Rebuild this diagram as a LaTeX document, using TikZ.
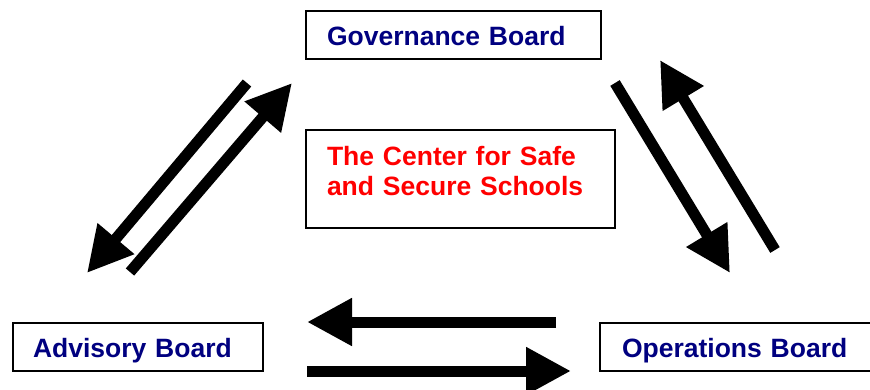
\documentclass[tikz,border=0pt]{standalone}
\usepackage{fontspec}
\setmainfont{Liberation Sans}
\usepackage{xcolor}
\usepackage{tikz}
\usetikzlibrary{arrows.meta}
\definecolor{boardtext}{HTML}{000080}
\definecolor{centertext}{HTML}{FF0000}
\tikzset{
  BoardBox/.style={
    draw=black, line width=1.6pt, fill=white,
    minimum height=48pt,
    text height=23pt, text depth=2pt,
    align=left, text=boardtext,
    font=\fontsize{26.5}{30}\selectfont\bfseries
  },
  CenterBox/.style={
    draw=black, line width=1.6pt, fill=white,
    minimum width=309pt, minimum height=98pt,
    inner xsep=21pt, text width=267pt,
    align=left, text=centertext,
    font=\fontsize{26.5}{30}\selectfont\bfseries
  },
  BigArrow/.style={
    line width=11pt,
    -{Triangle[length=45pt,width=45pt]}
  }
}

\begin{document}
\begin{tikzpicture}[x=1pt, y=-1pt]
  \clip (0,0) rectangle (870,389);

  % boards
  \node[BoardBox, minimum width=295pt, inner xsep=21pt, text width=253pt]
    (gov) at (453.5,35) {Governance Board};
  \node[BoardBox, minimum width=250pt, inner xsep=20pt, text width=210pt]
    (adv) at (138,347) {Advisory Board};
  \node[BoardBox, minimum width=290pt, inner xsep=22pt, text width=246pt]
    (ops) at (745,347) {Operations Board};
  \node[CenterBox] (center) at (460.5,179)
    {The Center for Safe\\and Secure Schools\rule[-16pt]{0pt}{0pt}};

  % arrow ends
  \coordinate (govadvA) at (247,83);
  \coordinate (govadvB) at (87,273);
  \coordinate (advgovA) at (130,272);
  \coordinate (advgovB) at (292,83);
  \coordinate (govopsA) at (615,83);
  \coordinate (govopsB) at (730,273);
  \coordinate (opsgovA) at (775,250);
  \coordinate (opsgovB) at (660,60);
  \coordinate (opsadvA) at (556,322);
  \coordinate (opsadvB) at (307,322);
  \coordinate (advopsA) at (307,371);
  \coordinate (advopsB) at (571,371);

  \draw[BigArrow] (govadvA) -- (govadvB);
  \draw[BigArrow] (advgovA) -- (advgovB);
  \draw[BigArrow] (govopsA) -- (govopsB);
  \draw[BigArrow] (opsgovA) -- (opsgovB);
  \draw[BigArrow] (opsadvA) -- (opsadvB);
  \draw[BigArrow] (advopsA) -- (advopsB);
\end{tikzpicture}
\end{document}
